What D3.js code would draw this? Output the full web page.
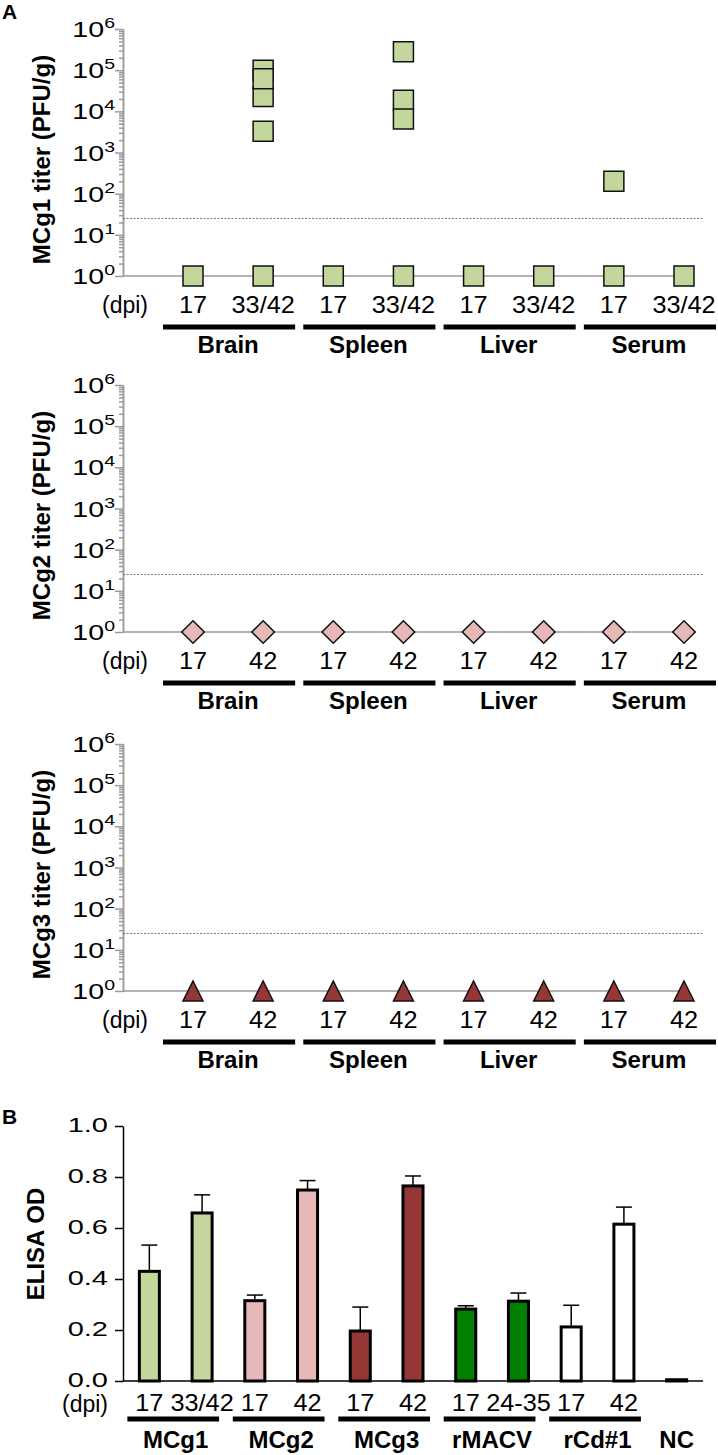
<!DOCTYPE html>
<html>
<head>
<meta charset="utf-8">
<script src="https://cdn.jsdelivr.net/npm/d3@7"></script>
<style>
  body { margin: 0; background: #fff; }
  svg { display: block; font-family: "Liberation Sans", Arial, sans-serif; }
</style>
</head>
<body>
<svg id="fig" width="718" height="1455"></svg>
<script>
//======= data =======//
let sites = ['Brain', 'Spleen', 'Liver', 'Serum'];
let dpiMCg1 = ['17', '33/42'];
let dpiOther = ['17', '42'];
let titerTicks = [1, 10, 100, 1e3, 1e4, 1e5, 1e6];
let detectionLimit = 25;

// one list of titers per column (site x dpi), PFU/g
let mcg1Titer = [[1], [1e5, 2.3e4, 6.2e4, 3.3e3, 1], [1], [2.8e5, 1.85e4, 6.5e3, 1],
                 [1], [1], [200, 1], [1]];
let mcg2Titer = [[1], [1], [1], [1], [1], [1], [1], [1]];
let mcg3Titer = [[1], [1], [1], [1], [1], [1], [1], [1]];

let elisaGroups = ['MCg1', 'MCg2', 'MCg3', 'rMACV', 'rCd#1', 'NC'];
let elisaGroupOf = [0, 0, 1, 1, 2, 2, 3, 3, 4, 4, 5];
let elisaDpi = ['17', '33/42', '17', '42', '17', '42', '17', '24-35', '17', '42', ''];
let elisaMean = [0.43, 0.659, 0.315, 0.749, 0.196, 0.765, 0.282, 0.313, 0.212, 0.615, 0.005];
let elisaSD = [0.103, 0.071, 0.022, 0.037, 0.094, 0.039, 0.013, 0.032, 0.085, 0.067, 0];
let elisaTicks = [0, 0.2, 0.4, 0.6, 0.8, 1.0];

//======= styles =======//
let groupColors = ['#c3d69b', '#e6b9b8', '#953735', '#008000', '#ffffff', '#000000'];
let axisGrey = '#9a9a9a';

let svg = d3.select('#fig');
svg.append('rect').attr('width', 718).attr('height', 1455).attr('fill', '#fff');

// triangle centred on its bounding box
let triangleType = {
  draw: function (ctx, size) {
    let w = Math.sqrt(size);
    ctx.moveTo(0, -w / 2);
    ctx.lineTo(w / 2, w / 2);
    ctx.lineTo(-w / 2, w / 2);
    ctx.closePath();
  }
};

svg.append('text').attr('x', 2).attr('y', 19)
  .attr('font-size', 21).attr('font-weight', 'bold').text('A');
svg.append('text').attr('x', 2).attr('y', 1124)
  .attr('font-size', 21).attr('font-weight', 'bold').text('B');

//======= titer panels =======//
function drawTiterPanel(top, titers, dpiLabels, title, marker) {
  let bottom = top + 247;
  let g = svg.append('g');

  let x = d3.scalePoint().domain(d3.range(8)).range([193, 684]);
  let y = d3.scaleLog().domain([1, 1e6]).range([bottom, top]);

  let minor = [];
  for (let d = 0; d < 6; d++)
    for (let k = 2; k < 10; k++) minor.push(k * Math.pow(10, d));

  let minorAxis = g.append('g').attr('transform', 'translate(123,0)')
    .call(d3.axisLeft(y).tickValues(minor).tickSize(4).tickSizeOuter(0).tickFormat(''));
  let majorAxis = g.append('g').attr('transform', 'translate(123,0)')
    .call(d3.axisLeft(y).tickValues(titerTicks).tickSize(8).tickSizeOuter(0).tickFormat(''));
  [minorAxis, majorAxis].forEach(function (a) {
    a.selectAll('path, line').attr('stroke', axisGrey).attr('stroke-width', 1.5);
  });

  g.selectAll('.tlab').data(titerTicks).enter().append('text')
    .attr('class', 'tlab')
    .attr('transform', function (d) { return 'translate(115,' + (y(d) + 8) + ') scale(1.3,1)'; })
    .attr('text-anchor', 'end')
    .attr('font-size', 22)
    .each(function (d) {
      let t = d3.select(this);
      t.append('tspan').text('10');
      t.append('tspan').attr('dy', -9).attr('font-size', 15).text(Math.round(Math.log10(d)));
    });

  // baseline at 10^0 and detection limit
  g.append('line').attr('x1', 123).attr('x2', x(7)).attr('y1', y(1)).attr('y2', y(1))
    .attr('stroke', axisGrey).attr('stroke-width', 1.5);
  g.append('line').attr('x1', 123).attr('x2', 703)
    .attr('y1', y(detectionLimit)).attr('y2', y(detectionLimit))
    .attr('stroke', '#777').attr('stroke-width', 1).attr('stroke-dasharray', '2,1.5');

  let points = [];
  titers.forEach(function (list, i) {
    list.forEach(function (v) { points.push({ i: i, v: v }); });
  });
  g.selectAll('.pt').data(points).enter().append('path')
    .attr('class', 'pt')
    .attr('d', d3.symbol().type(marker.type).size(marker.size))
    .attr('transform', function (d) {
      return 'translate(' + x(d.i) + ',' + y(d.v) + ')' + (marker.rotate ? ' rotate(45)' : '');
    })
    .attr('fill', marker.fill)
    .attr('stroke', '#111')
    .attr('stroke-width', 1.5);

  // dpi row
  g.append('text').attr('x', 148).attr('y', bottom + 37)
    .attr('text-anchor', 'end').attr('font-size', 23).text('(dpi)');
  g.selectAll('.dpi').data(d3.range(8)).enter().append('text')
    .attr('class', 'dpi')
    .attr('transform', function (i) { return 'translate(' + x(i) + ',' + (bottom + 37) + ') scale(1.1,1)'; })
    .attr('text-anchor', 'middle').attr('font-size', 23)
    .text(function (i) { return dpiLabels[i % 2]; });

  // site groups
  g.selectAll('.grp').data(sites).enter().append('line')
    .attr('class', 'grp')
    .attr('x1', function (d, s) { return x(2 * s) - 30; })
    .attr('x2', function (d, s) { return x(2 * s + 1) + 32; })
    .attr('y1', bottom + 51).attr('y2', bottom + 51)
    .attr('stroke', '#000').attr('stroke-width', 5);
  g.selectAll('.grpl').data(sites).enter().append('text')
    .attr('class', 'grpl')
    .attr('x', function (d, s) { return (x(2 * s) + x(2 * s + 1)) / 2; })
    .attr('y', bottom + 77)
    .attr('text-anchor', 'middle').attr('font-size', 24).attr('font-weight', 'bold')
    .text(function (d) { return d; });

  g.append('text')
    .attr('transform', 'translate(50,' + ((top + bottom) / 2 + 7) + ') rotate(-90)')
    .attr('text-anchor', 'middle').attr('font-size', 24).attr('font-weight', 'bold')
    .text(title);
}

drawTiterPanel(29, mcg1Titer, dpiMCg1, 'MCg1 titer (PFU/g)',
  { type: d3.symbolSquare, size: 400, fill: groupColors[0] });
drawTiterPanel(385, mcg2Titer, dpiOther, 'MCg2 titer (PFU/g)',
  { type: d3.symbolSquare, size: 256, fill: groupColors[1], rotate: true });
drawTiterPanel(744, mcg3Titer, dpiOther, 'MCg3 titer (PFU/g)',
  { type: triangleType, size: 400, fill: groupColors[2] });

//======= ELISA bar chart =======//
let bx = d3.scaleBand().domain(d3.range(elisaMean.length)).range([123, 703])
  .paddingInner(0.62).paddingOuter(0.31);
let by = d3.scaleLinear().domain([0, 1]).range([1381, 1126]);
let bc = function (i) { return bx(i) + bx.bandwidth() / 2; };

let bg = svg.append('g');
let yAxisB = bg.append('g').attr('transform', 'translate(123,0)')
  .call(d3.axisLeft(by).tickValues(elisaTicks).tickSize(8).tickSizeOuter(0).tickFormat(''));
yAxisB.selectAll('path, line').attr('stroke', '#000').attr('stroke-width', 1.5);

bg.selectAll('.blab').data(elisaTicks).enter().append('text')
  .attr('transform', function (d) { return 'translate(108,' + (by(d) + 6) + ') scale(1.45,1)'; })
  .attr('text-anchor', 'end').attr('font-size', 20)
  .text(d3.format('.1f'));

// error bars (upper only)
let withErr = d3.range(elisaMean.length).filter(function (i) { return elisaSD[i] > 0; });
bg.selectAll('.err').data(withErr).enter().append('line')
  .attr('x1', bc).attr('x2', bc)
  .attr('y1', function (i) { return by(elisaMean[i]); })
  .attr('y2', function (i) { return by(elisaMean[i] + elisaSD[i]); })
  .attr('stroke', '#000').attr('stroke-width', 1.5);
bg.selectAll('.cap').data(withErr).enter().append('line')
  .attr('x1', function (i) { return bc(i) - 8; })
  .attr('x2', function (i) { return bc(i) + 8; })
  .attr('y1', function (i) { return by(elisaMean[i] + elisaSD[i]); })
  .attr('y2', function (i) { return by(elisaMean[i] + elisaSD[i]); })
  .attr('stroke', '#000').attr('stroke-width', 1.5);

bg.append('line').attr('x1', 123).attr('x2', 703).attr('y1', by(0)).attr('y2', by(0))
  .attr('stroke', '#000').attr('stroke-width', 1.5);

bg.selectAll('.bar').data(elisaMean).enter().append('rect')
  .attr('x', function (d, i) { return bx(i); })
  .attr('width', bx.bandwidth())
  .attr('y', function (d) { return by(d); })
  .attr('height', function (d) { return by(0) - by(d); })
  .attr('fill', function (d, i) { return groupColors[elisaGroupOf[i]]; })
  .attr('stroke', '#000').attr('stroke-width', 3);

bg.append('text').attr('x', 108).attr('y', 1412)
  .attr('text-anchor', 'end').attr('font-size', 23).text('(dpi)');
bg.selectAll('.bdpi').data(elisaDpi).enter().append('text')
  .attr('transform', function (d, i) { return 'translate(' + bc(i) + ',1411) scale(1.1,1)'; })
  .attr('text-anchor', 'middle').attr('font-size', 23)
  .text(function (d) { return d; });

let groupIdx = elisaGroups.map(function (gname, k) {
  return d3.range(elisaMean.length).filter(function (i) { return elisaGroupOf[i] === k; });
});
bg.selectAll('.bgrp').data(groupIdx.filter(function (idx) { return idx.length > 1; }))
  .enter().append('line')
  .attr('x1', function (idx) { return bc(idx[0]) - 22; })
  .attr('x2', function (idx) { return bc(idx[idx.length - 1]) + 17; })
  .attr('y1', 1419).attr('y2', 1419)
  .attr('stroke', '#000').attr('stroke-width', 5);
bg.selectAll('.bgl').data(elisaGroups).enter().append('text')
  .attr('x', function (d, k) { return d3.mean(groupIdx[k], bc); })
  .attr('y', 1448)
  .attr('text-anchor', 'middle').attr('font-size', 24).attr('font-weight', 'bold')
  .text(function (d) { return d; });

bg.append('text')
  .attr('transform', 'translate(44,1244) rotate(-90)')
  .attr('text-anchor', 'middle').attr('font-size', 24).attr('font-weight', 'bold')
  .text('ELISA OD');
</script>
</body>
</html>
